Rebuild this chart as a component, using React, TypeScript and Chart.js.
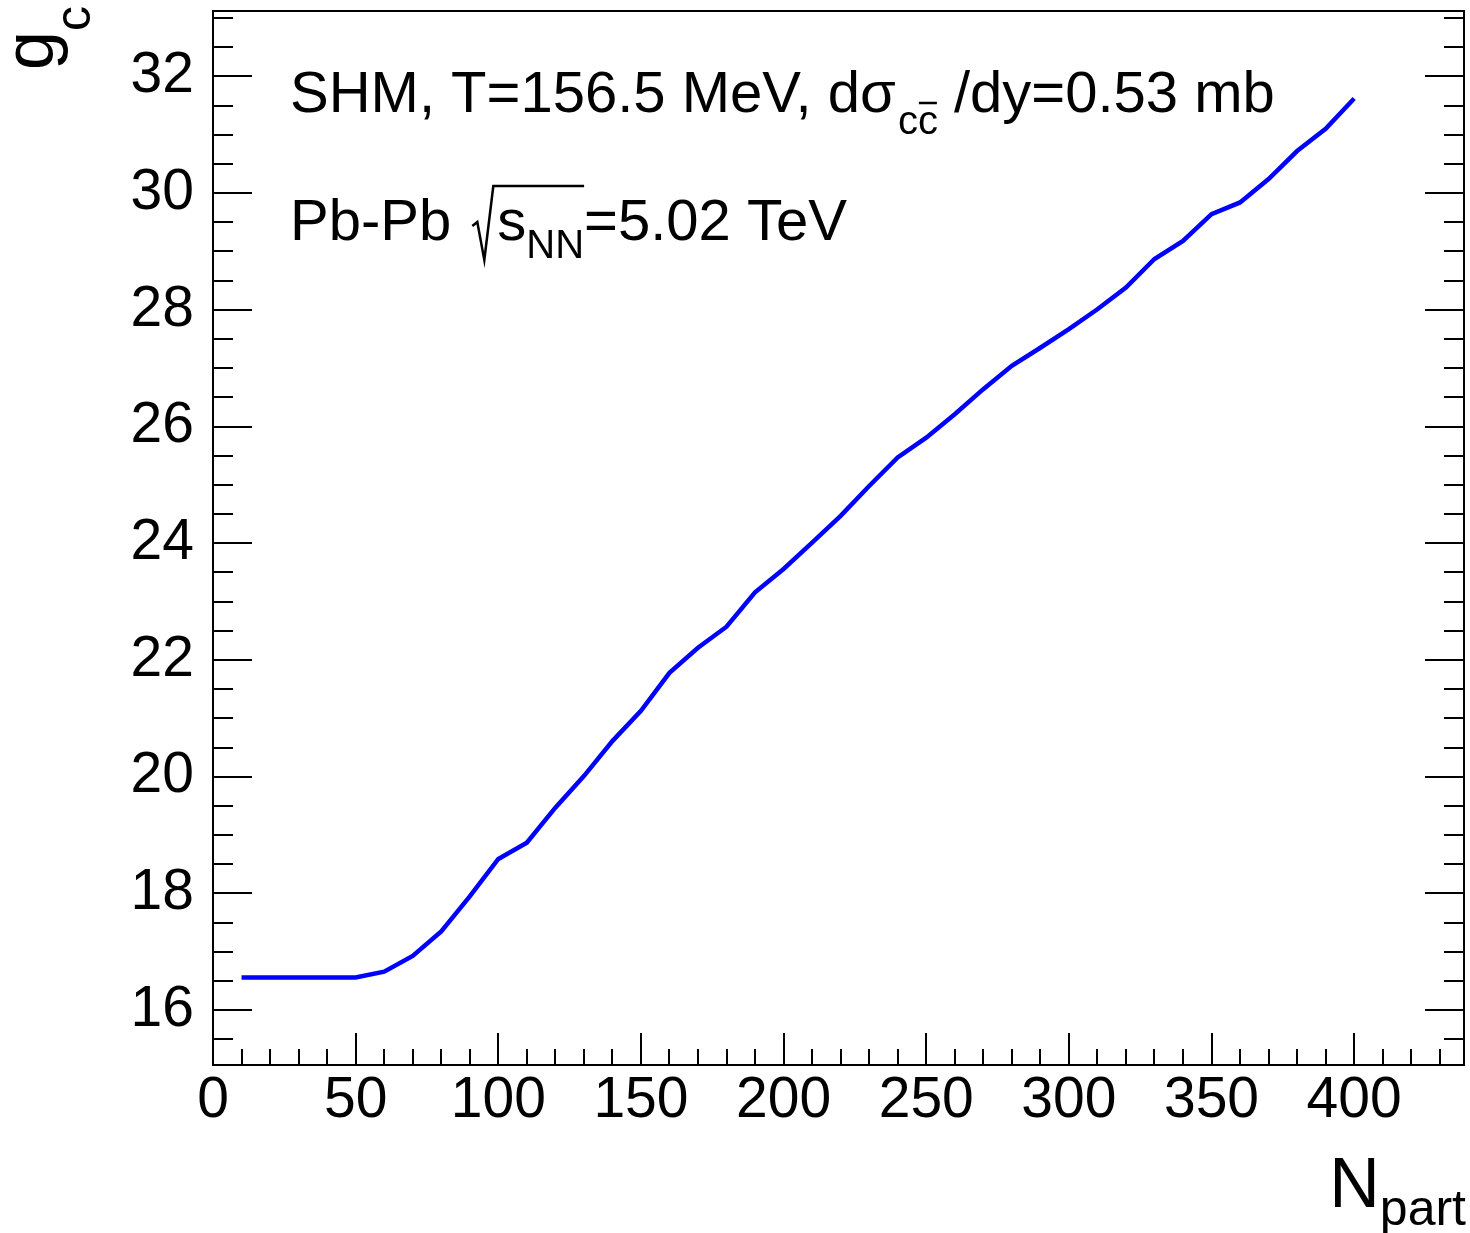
import React, { useEffect, useRef } from "react";
import { Chart, registerables } from "chart.js";

Chart.register(...registerables);

const NPART = [10, 20, 30, 40, 50, 60, 70, 80, 90, 100, 110, 120, 130, 140, 150, 160, 170, 180, 190, 200, 210, 220, 230, 240, 250, 260, 270, 280, 290, 300, 310, 320, 330, 340, 350, 360, 370, 380, 390, 400];
const GC = [16.56, 16.56, 16.56, 16.56, 16.56, 16.66, 16.93, 17.35, 17.95, 18.59, 18.87, 19.47, 20.01, 20.61, 21.13, 21.78, 22.21, 22.57, 23.16, 23.56, 24.01, 24.47, 24.98, 25.47, 25.81, 26.21, 26.64, 27.04, 27.35, 27.67, 28.01, 28.38, 28.87, 29.18, 29.64, 29.84, 30.24, 30.72, 31.1, 31.62];
const X_TICKS = [0, 50, 100, 150, 200, 250, 300, 350, 400];
const Y_TICKS = [16, 18, 20, 22, 24, 26, 28, 30, 32];
const X_RANGE = [0, 438.5];
const Y_RANGE = [15.06, 33.12];

const FONT = '"Liberation Sans", Arial, Helvetica, sans-serif';
const W = 1470;
const H = 1233;

const framePlugin = {
  id: "rootFrame",
  afterDatasetsDraw(chart: any) {
    const { ctx, chartArea: a, scales } = chart;
    const xs = scales.x;
    const ys = scales.y;
    ctx.save();
    ctx.strokeStyle = "#000";
    ctx.lineWidth = 2;
    for (let v = 0; v <= X_RANGE[1]; v += 10) {
      const px = Math.round(xs.getPixelForValue(v));
      const len = v % 50 === 0 ? 32 : 16;
      ctx.beginPath();
      ctx.moveTo(px, a.bottom);
      ctx.lineTo(px, a.bottom - len);
      ctx.stroke();
    }
    for (let v = 15.5; v <= Y_RANGE[1]; v += 0.5) {
      const py = Math.round(ys.getPixelForValue(v));
      const len = Math.abs(v % 2) < 1e-6 ? 39 : 20;
      ctx.beginPath();
      ctx.moveTo(a.left, py);
      ctx.lineTo(a.left + len, py);
      ctx.moveTo(a.right, py);
      ctx.lineTo(a.right - len, py);
      ctx.stroke();
    }
    ctx.strokeRect(a.left, a.top, a.right - a.left, a.bottom - a.top);
    ctx.restore();
  },
  afterDraw(chart: any) {
    const { ctx } = chart;
    ctx.save();
    ctx.fillStyle = "#000";
    ctx.strokeStyle = "#000";
    ctx.textBaseline = "alphabetic";
    ctx.textAlign = "left";

    const big = `58px ${FONT}`;
    const sub = `40px ${FONT}`;
    let x = 290;
    const b1 = 112;
    ctx.font = big;
    const t1 = "SHM, T=156.5 MeV, d\u03C3";
    ctx.fillText(t1, x, b1);
    x += ctx.measureText(t1).width + 2;
    ctx.font = sub;
    ctx.fillText("c", x, b1 + 22);
    const cw = ctx.measureText("c").width;
    ctx.fillText("c", x + cw, b1 + 22);
    ctx.lineWidth = 2.5;
    ctx.beginPath();
    ctx.moveTo(x + cw + 1, b1 - 9);
    ctx.lineTo(x + 2 * cw - 1, b1 - 9);
    ctx.stroke();
    x += 2 * cw;
    ctx.font = big;
    ctx.fillText(" /dy=0.53 mb", x, b1);

    let x2 = 290;
    const b2 = 240;
    ctx.font = big;
    const t2 = "Pb-Pb ";
    ctx.fillText(t2, x2, b2);
    x2 += ctx.measureText(t2).width;
    const rx = x2 + 4;
    x2 = rx + 26;
    ctx.fillText("s", x2, b2);
    x2 += ctx.measureText("s").width;
    ctx.font = sub;
    ctx.fillText("NN", x2, b2 + 18);
    x2 += ctx.measureText("NN").width;
    const barEnd = x2;
    ctx.lineWidth = 2.5;
    ctx.beginPath();
    ctx.moveTo(rx + 1, b2 - 14);
    ctx.lineTo(rx + 6, b2 - 18);
    ctx.lineTo(rx + 13, b2 + 20);
    ctx.lineTo(rx + 22, b2 - 54);
    ctx.lineTo(barEnd, b2 - 54);
    ctx.stroke();
    ctx.font = big;
    ctx.fillText("=5.02 TeV", x2, b2);

    ctx.save();
    ctx.translate(53, 70);
    ctx.rotate(-Math.PI / 2);
    ctx.font = `70px ${FONT}`;
    ctx.fillText("g", 0, 0);
    const gw = ctx.measureText("g").width;
    ctx.font = `50px ${FONT}`;
    ctx.fillText("c", gw, 37);
    ctx.restore();

    ctx.font = `50px ${FONT}`;
    ctx.textAlign = "right";
    ctx.fillText("part", 1466, 1225);
    const pw = ctx.measureText("part").width;
    ctx.font = `70px ${FONT}`;
    ctx.fillText("N", 1466 - pw, 1207);
    ctx.restore();
  },
};

export default function App() {
  const ref = useRef<HTMLCanvasElement | null>(null);
  useEffect(() => {
    if (!ref.current) return;
    const chart = new Chart(ref.current, {
      type: "line",
      data: {
        datasets: [
          {
            data: NPART.map((n, i) => ({ x: n, y: GC[i] })),
            borderColor: "#0000ff",
            borderWidth: 4.5,
            pointRadius: 0,
            tension: 0,
            fill: false,
          },
        ],
      },
      options: {
        responsive: false,
        animation: false,
        events: [],
        layout: { padding: { top: 11, right: W - 1464, left: 0, bottom: 0 } },
        plugins: { legend: { display: false }, tooltip: { enabled: false } },
        scales: {
          x: {
            type: "linear",
            position: "bottom",
            min: X_RANGE[0],
            max: X_RANGE[1],
            grid: { display: false, drawTicks: false },
            border: { display: false },
            afterBuildTicks: (s: any) => {
              s.ticks = X_TICKS.map((v) => ({ value: v }));
            },
            afterFit: (s: any) => {
              s.height = H - 1065;
              s.paddingLeft = 0;
              s.paddingRight = 0;
            },
            ticks: {
              autoSkip: false,
              maxRotation: 0,
              padding: 2,
              color: "#000",
              font: { family: FONT, size: 57 },
            },
          },
          y: {
            type: "linear",
            position: "left",
            min: Y_RANGE[0],
            max: Y_RANGE[1],
            grid: { display: false, drawTicks: false },
            border: { display: false },
            afterBuildTicks: (s: any) => {
              s.ticks = Y_TICKS.map((v) => ({ value: v }));
            },
            afterFit: (s: any) => {
              s.width = 213;
              s.paddingTop = 0;
              s.paddingBottom = 0;
            },
            ticks: {
              autoSkip: false,
              padding: 19,
              color: "#000",
              font: { family: FONT, size: 57 },
            },
          },
        },
      },
      plugins: [framePlugin],
    });
    return () => chart.destroy();
  }, []);
  return (
    <div style={{ position: "absolute", left: 0, top: 0, width: W, height: H, background: "#fff" }}>
      <canvas ref={ref} width={W} height={H} style={{ display: "block", width: W, height: H }} />
    </div>
  );
}
